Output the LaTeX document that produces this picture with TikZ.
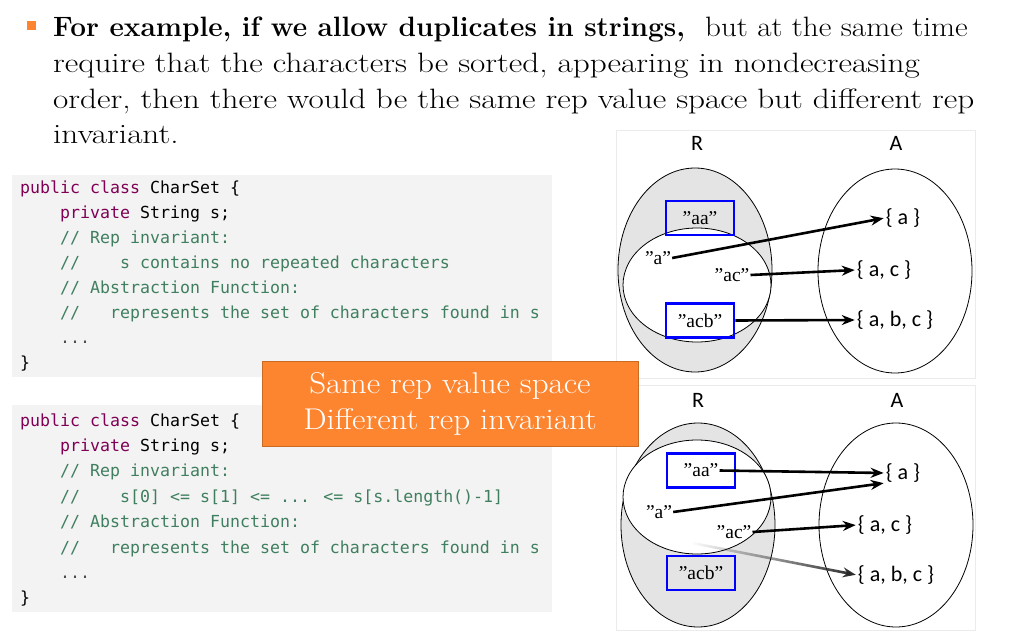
\documentclass[tikz,border=0pt]{standalone}
\usepackage{fontspec}
\newfontfamily\codefont{DejaVu Sans Mono}
\newfontfamily\labelfont{Carlito}
\newfontfamily\repfont{Liberation Serif}
\newfontfamily\wideserif[FakeStretch=1.185]{Latin Modern Roman}
\newfontfamily\firstserif[FakeStretch=1.11]{Latin Modern Roman}
\newfontfamily\boldserif{Latin Modern Roman}
\newfontfamily\notefont[FakeStretch=1.1]{Latin Modern Roman}
\usepackage{xcolor}
\definecolor{keyword}{HTML}{7F0055}
\definecolor{comment}{HTML}{3F7F5F}
\definecolor{codebg}{HTML}{F3F3F3}
\definecolor{boxorange}{HTML}{FD8530}
\definecolor{boxedge}{HTML}{C96B22}
\definecolor{setgray}{HTML}{E4E4E4}
\definecolor{repblue}{HTML}{0000FF}
\usetikzlibrary{shapes.geometric, arrows.meta, positioning, fadings}

\newcommand{\kw}[1]{\textcolor{keyword}{#1}}
\newcommand{\cm}[1]{\textcolor{comment}{#1}}
\newcommand{\ind}{\phantom{0000}}

\begin{document}
\begin{tikzpicture}[x=1pt, y=-1pt]
    \tikzstyle{title}=[anchor=base west, inner sep=0pt, font=\fontsize{28}{34}\wideserif]
    \tikzstyle{code}=[anchor=base west, inner sep=0pt, font=\fontsize{16.6}{20}\codefont]
    \tikzstyle{codebox}=[fill=codebg, draw=none]
    \tikzstyle{set}=[ellipse, draw, line width=0.8pt, minimum width=154, minimum height=204, inner sep=0pt]
    \tikzstyle{inset}=[ellipse, draw, fill=white, line width=0.8pt, minimum width=148, minimum height=114, inner sep=0pt]
    \tikzstyle{rep}=[draw=repblue, line width=2.6pt, minimum width=68, minimum height=34, inner sep=0pt]
    \tikzstyle{str}=[inner sep=1pt, font=\fontsize{19.5}{22}\repfont]
    \tikzstyle{abs}=[inner sep=1pt, font=\fontsize{22}{26}\labelfont]
    \tikzstyle{lbl}=[inner sep=0pt, font=\fontsize{22}{26}\labelfont]
    \tikzstyle{arr}=[-{Stealth[length=13pt, width=10pt]}, line width=2.6pt, shorten >=1pt]
    \useasboundingbox (0,0) rectangle (1013,637);

    % bullet text
    \fill[boxorange] (27,21) rectangle (36,30);
    \node[title] (l1) at (53,36) {{\boldserif\bfseries For example, if we allow duplicates in strings,}\ \ {\firstserif but at the same time}};
    \node[title] (l2) at (53,72) {require that the characters be sorted, appearing in nondecreasing};
    \node[title] (l3) at (53,108) {order, then there would be the same rep value space but different rep};
    \node[title] (l4) at (53,143) {invariant.};

    % first class
    \fill[codebox] (12,175) rectangle (552,377);
    \node[code] (a1) at (20,193) {\kw{public class} CharSet \{};
    \node[code] (a2) at (20,218) {\ind\kw{private} String s;};
    \node[code] (a3) at (20,243) {\ind\cm{// Rep invariant:}};
    \node[code] (a4) at (20,268) {\ind\cm{//\phantom{0000}s contains no repeated characters}};
    \node[code] (a5) at (20,293) {\ind\cm{// Abstraction Function:}};
    \node[code] (a6) at (20,318) {\ind\cm{//\phantom{000}represents the set of characters found in s}};
    \node[code] (a7) at (20,343) {\ind\textcolor{black!70}{...}};
    \node[code] (a8) at (20,368) {\}};

    % second class
    \fill[codebox] (12,405) rectangle (552,612);
    \node[code] (b1) at (20,426) {\kw{public class} CharSet \{};
    \node[code] (b2) at (20,451.4) {\ind\kw{private} String s;};
    \node[code] (b3) at (20,476.8) {\ind\cm{// Rep invariant:}};
    \node[code] (b4) at (20,502.2) {\ind\cm{//\phantom{0000}s[0] <= s[1] <= ... <= s[s.length()-1]}};
    \node[code] (b5) at (20,527.6) {\ind\cm{// Abstraction Function:}};
    \node[code] (b6) at (20,553) {\ind\cm{//\phantom{000}represents the set of characters found in s}};
    \node[code] (b7) at (20,578.4) {\ind\textcolor{black!70}{...}};
    \node[code] (b8) at (20,603.8) {\}};

    % panels
    \draw[black!8] (616,130) rectangle (975,378);
    \draw[black!8] (616,385) rectangle (975,630);

    % top diagram
    \node[lbl] (R1) at (697,143) {R};
    \node[lbl] (A1) at (896,143) {A};
    \node[set, fill=setgray] (rspace1) at (695,270) {};
    \node[inset] (rinv1) at (697,285) {};
    \node[set] (aspace1) at (895,271) {};
    \node[rep] (aabox1) at (700,218) {};
    \node[rep] (acbbox1) at (700,320.5) {};
    \node[str] (aa1) at (700,218) {”aa”};
    \node[str] (acb1) at (700,320.5) {”acb”};
    \node[str] (a1s) at (658,258) {”a”};
    \node[str] (ac1) at (732,275) {”ac”};
    \node[abs] (sa1) at (903,218) {\{ a \}};
    \node[abs] (sac1) at (884,270) {\{ a, c \}};
    \node[abs] (sabc1) at (895,320) {\{ a, b, c \}};
    \draw[arr] (a1s.east) -- (sa1.west);
    \draw[arr] (ac1.east) -- (sac1.west);
    \draw[arr] (acbbox1.east) -- (sabc1.west);

    % bottom diagram
    \node[lbl] (R2) at (698,400) {R};
    \node[lbl] (A2) at (897,400) {A};
    \node[set, fill=setgray] (rspace2) at (698,525) {};
    \node[inset] (rinv2) at (697,497) {};
    \node[set] (aspace2) at (896,525) {};
    \node[rep] (aabox2) at (701,470.5) {};
    \node[rep] (acbbox2) at (701,573) {};
    \node[str] (aa2) at (701,470.5) {”aa”};
    \node[str] (acb2) at (701,573) {”acb”};
    \node[str] (a2s) at (659,512) {”a”};
    \node[str] (ac2) at (734,532) {”ac”};
    \node[abs] (sa2) at (903,473) {\{ a \}};
    \node[abs] (sac2) at (885,525) {\{ a, c \}};
    \node[abs] (sabc2) at (896,575) {\{ a, b, c \}};
    \coordinate (fade2) at (692,543);
    \draw[arr] (aa2.east) -- (sa2.west);
    \draw[arr] (a2s.east) -- ([yshift=-10pt]sa2.west);
    \draw[arr] (ac2.east) -- (sac2.west);
    \draw[arr, black!85, path fading=west] (fade2) -- (sabc2.west);

    % orange note
    \node[draw=boxedge, fill=boxorange, line width=0.8pt, minimum width=376, minimum height=85,
          align=center, text=white, font=\fontsize{30}{36}\notefont] (note) at (450,403.5)
          {\raisebox{-3pt}{Same rep value space}\\\raisebox{-3pt}{Different rep invariant}};
\end{tikzpicture}
\end{document}
